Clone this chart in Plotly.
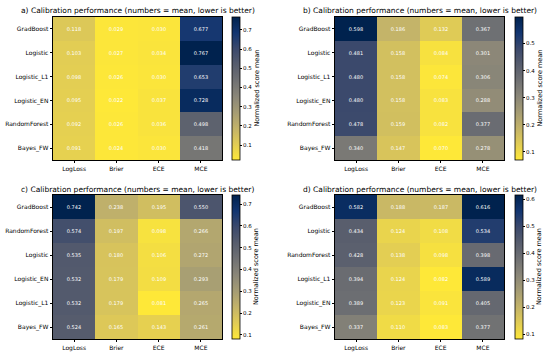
import plotly.graph_objects as go

metrics = ["LogLoss", "Brier", "ECE", "MCE"]

rows_a = ["GradBoost", "Logistic", "Logistic_L1", "Logistic_EN", "RandomForest", "Bayes_FW"]
vals_a = [
    [0.118, 0.029, 0.030, 0.677],
    [0.103, 0.027, 0.034, 0.767],
    [0.098, 0.026, 0.030, 0.653],
    [0.095, 0.022, 0.037, 0.728],
    [0.092, 0.026, 0.036, 0.498],
    [0.091, 0.024, 0.030, 0.418],
]

rows_b = ["GradBoost", "Logistic", "Logistic_L1", "Logistic_EN", "RandomForest", "Bayes_FW"]
vals_b = [
    [0.598, 0.186, 0.132, 0.367],
    [0.481, 0.158, 0.084, 0.301],
    [0.480, 0.158, 0.074, 0.306],
    [0.480, 0.158, 0.083, 0.288],
    [0.478, 0.159, 0.082, 0.377],
    [0.340, 0.147, 0.070, 0.278],
]

rows_c = ["GradBoost", "RandomForest", "Logistic", "Logistic_EN", "Logistic_L1", "Bayes_FW"]
vals_c = [
    [0.742, 0.238, 0.195, 0.550],
    [0.574, 0.197, 0.098, 0.266],
    [0.535, 0.180, 0.106, 0.272],
    [0.532, 0.179, 0.109, 0.293],
    [0.532, 0.179, 0.081, 0.265],
    [0.524, 0.165, 0.143, 0.261],
]

rows_d = ["GradBoost", "Logistic", "RandomForest", "Logistic_L1", "Logistic_EN", "Bayes_FW"]
vals_d = [
    [0.582, 0.188, 0.187, 0.616],
    [0.434, 0.124, 0.108, 0.534],
    [0.428, 0.138, 0.098, 0.398],
    [0.394, 0.124, 0.082, 0.589],
    [0.389, 0.123, 0.091, 0.405],
    [0.337, 0.110, 0.083, 0.377],
]

panel_labels = ["a)", "b)", "c)", "d)"]
title_text = "Calibration performance (numbers = mean, lower is better)"
cbar_title = "Normalized score mean"

W, H = 550, 354
# pixel boxes: (left, right, top, bottom, colorbar left)
boxes = [
    (53, 222, 17, 160, 232),
    (335, 504, 17, 160, 515),
    (53, 222, 195, 339, 232),
    (335, 504, 195, 339, 515),
]
panels = [(rows_a, vals_a), (rows_b, vals_b), (rows_c, vals_c), (rows_d, vals_d)]

font_family = "DejaVu Sans"
fig = go.Figure()
annotations = []
for i, ((rows, vals), (l, r, t, b, cbx)) in enumerate(zip(panels, boxes)):
    n = i + 1
    xa = "x" if n == 1 else f"x{n}"
    ya = "y" if n == 1 else f"y{n}"
    flat = [v for row in vals for v in row]
    fig.add_trace(go.Heatmap(
        z=vals, x=metrics, y=rows, xaxis=xa, yaxis=ya,
        colorscale="Cividis", reversescale=True,
        zmin=min(flat), zmax=max(flat),
        texttemplate="%{z:.3f}",
        textfont=dict(color="white", size=5, family=font_family),
        xgap=0, ygap=0,
        colorbar=dict(
            x=cbx / W, xanchor="left", xref="paper",
            y=1 - (t + b) / 2 / H, yanchor="middle",
            lenmode="pixels", len=b - t,
            thicknessmode="pixels", thickness=8,
            xpad=0, ypad=0,
            outlinewidth=0.8, outlinecolor="black",
            ticks="outside", ticklen=2, tickwidth=0.6, tickcolor="black",
            tickfont=dict(size=5.5, family=font_family, color="black"),
            tickformat=".1f", dtick=0.1,
        ),
    ))
    axkw = dict(showline=True, mirror=True, linecolor="black", linewidth=0.8,
                ticks="outside", ticklen=2.5, tickwidth=0.6, tickcolor="black",
                tickfont=dict(size=6, family=font_family, color="black"),
                showgrid=False, zeroline=False, automargin=False)
    fig.update_layout({
        ("xaxis" if n == 1 else f"xaxis{n}"): dict(domain=[l / W, r / W], anchor=ya, **axkw),
        ("yaxis" if n == 1 else f"yaxis{n}"): dict(domain=[1 - b / H, 1 - t / H], anchor=xa,
                                                   autorange="reversed", **axkw),
    })
    annotations.append(dict(
        text=f"{panel_labels[i]} {title_text}", x=(l + r) / 2 / W, y=1 - (t - 6) / H,
        xref="paper", yref="paper", xanchor="center", yanchor="middle", showarrow=False,
        font=dict(size=7.5, family=font_family, color="black"),
    ))
    annotations.append(dict(
        text=cbar_title, x=(cbx + 24) / W, y=1 - (t + b) / 2 / H, textangle=-90,
        xref="paper", yref="paper", xanchor="center", yanchor="middle", showarrow=False,
        font=dict(size=6.5, family=font_family, color="black"),
    ))

fig.update_layout(
    width=W, height=H, margin=dict(l=0, r=0, t=0, b=0, autoexpand=False),
    paper_bgcolor="white", plot_bgcolor="white",
    annotations=annotations, showlegend=False,
)
fig.write_html("out.html", config={"displayModeBar": False},
               post_script="document.body.style.margin='0';document.body.style.padding='0';")
